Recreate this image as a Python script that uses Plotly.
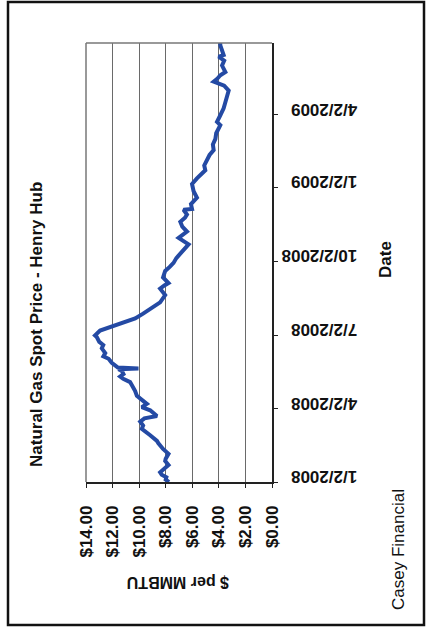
import plotly.graph_objects as go

# ---- data ----
dates = [
    "2008-01-02", "2008-01-05", "2008-01-08", "2008-01-11", "2008-01-14", "2008-01-18",
    "2008-01-23", "2008-01-28", "2008-01-31", "2008-02-06", "2008-02-12", "2008-02-19",
    "2008-02-22", "2008-02-29", "2008-03-04", "2008-03-08", "2008-03-12", "2008-03-17",
    "2008-03-21", "2008-03-24", "2008-03-31", "2008-04-04", "2008-04-08", "2008-04-14",
    "2008-04-18", "2008-04-24", "2008-04-28", "2008-05-02", "2008-05-05", "2008-05-09",
    "2008-05-12", "2008-05-15", "2008-05-19", "2008-05-21", "2008-05-22", "2008-05-23",
    "2008-05-29", "2008-06-03", "2008-06-06", "2008-06-10", "2008-06-16", "2008-06-20",
    "2008-06-24", "2008-06-30", "2008-07-02", "2008-07-08", "2008-07-14", "2008-07-17",
    "2008-07-23", "2008-07-29", "2008-08-04", "2008-08-12", "2008-08-21", "2008-08-29",
    "2008-09-02", "2008-09-05", "2008-09-12", "2008-09-20", "2008-09-25", "2008-09-30",
    "2008-10-06", "2008-10-12", "2008-10-18", "2008-10-23", "2008-10-31", "2008-11-04",
    "2008-11-08", "2008-11-14", "2008-11-20", "2008-11-25", "2008-11-29", "2008-12-05",
    "2008-12-06", "2008-12-12", "2008-12-20", "2008-12-28", "2009-01-06", "2009-01-13",
    "2009-01-23", "2009-01-29", "2009-02-05", "2009-02-11", "2009-02-17", "2009-02-24",
    "2009-03-03", "2009-03-10", "2009-03-20", "2009-03-24", "2009-04-01", "2009-04-10",
    "2009-04-18", "2009-04-26", "2009-05-02", "2009-05-08", "2009-05-13", "2009-05-17",
    "2009-05-21", "2009-05-25", "2009-06-02", "2009-06-08", "2009-06-13", "2009-06-15",
    "2009-06-21", "2009-06-27", "2009-06-30",
]
prices = [
    7.75, 8.00, 7.95, 8.30, 8.42, 8.10,
    7.79, 8.04, 8.00, 7.79, 8.20, 8.55,
    8.66, 9.17, 9.45, 9.80, 9.70, 9.92,
    9.60, 8.66, 9.17, 9.80, 9.42, 9.90,
    10.17, 10.30, 10.43, 10.60, 10.68, 11.20,
    11.43, 11.18, 11.30, 11.56, 10.05, 11.60,
    12.06, 12.30, 12.69, 12.55, 12.81, 12.70,
    13.00, 13.19, 13.32, 12.94, 11.94, 11.30,
    10.30, 9.70, 9.17, 8.42, 8.04, 8.42,
    8.10, 7.79, 8.20, 8.04, 7.70, 7.41,
    7.20, 6.90, 6.60, 6.28, 7.03, 6.70,
    6.40, 6.75, 6.90, 6.55, 6.40, 6.66,
    6.02, 6.10, 5.65, 5.90, 6.02, 5.65,
    5.02, 5.10, 4.89, 4.70, 4.39, 4.45,
    4.26, 4.20, 3.89, 4.14, 3.90, 3.64,
    3.50, 3.38, 3.26, 3.60, 4.39, 4.10,
    3.89, 3.51, 3.76, 3.60, 4.01, 3.64,
    3.80, 3.89, 3.90,
]

value_ticks = [14, 12, 10, 8, 6, 4, 2, 0]
date_ticks = ["2008-01-02", "2008-04-02", "2008-07-02", "2008-10-02", "2009-01-02", "2009-04-02"]
date_labels = ["1/2/2008", "4/2/2008", "7/2/2008", "10/2/2008", "1/2/2009", "4/2/2009"]

title_text = "Natural Gas Spot Price - Henry Hub"
value_axis_title = "$ per MMBTU"
date_axis_title = "Date"
source_text = "Casey Financial"

# ---- layout geometry ----
W, H = 427, 631
PL, PR, PT, PB = 86, 272, 43, 482  # plot area in pixels


def px_x(p):
    return (p - PL) / (PR - PL)


def px_y(p):
    return (PB - p) / (PB - PT)


FONT = "Arial, Liberation Sans, Helvetica, sans-serif"
FS = 17


def label(text, x, y, angle, size=FS):
    return dict(text=text, xref="paper", yref="paper", x=px_x(x), y=px_y(y),
                xanchor="center", yanchor="middle", showarrow=False,
                textangle=angle, font=dict(family=FONT, size=size, color="#111"))


fig = go.Figure()
fig.add_trace(go.Scatter(
    x=prices, y=dates, mode="lines",
    line=dict(color="rgb(36,74,164)", width=4),
    hoverinfo="skip", showlegend=False,
))

fig.update_layout(
    width=W, height=H,
    margin=dict(l=PL, r=W - PR, t=PT, b=H - PB, pad=0),
    paper_bgcolor="white", plot_bgcolor="white",
    showlegend=False,
    xaxis=dict(
        range=[14, 0], tickvals=value_ticks,
        tickformat="$.2f", tickangle=-90,
        tickfont=dict(family=FONT, size=FS, color="#111", weight="bold"),
        showgrid=True, gridcolor="#6a6a6a", gridwidth=1,
        zeroline=False, showline=True, linecolor="#222", linewidth=1.5,
        ticks="outside", ticklen=4, tickcolor="#222",
        ticklabelstandoff=11, fixedrange=True,
    ),
    yaxis=dict(
        type="date", range=["2008-01-02", "2009-06-30"],
        tickvals=date_ticks, ticktext=date_labels, side="right",
        tickangle=180,
        tickfont=dict(family=FONT, size=FS, color="#111", weight="bold"),
        showgrid=False, zeroline=False, showline=True, linecolor="#222", linewidth=1.5,
        ticks="outside", ticklen=4, tickcolor="#222",
        ticklabelstandoff=76, fixedrange=True,
    ),
    shapes=[
        # plot area left and top edges
        dict(type="line", xref="paper", yref="paper", x0=0, x1=1, y0=1, y1=1,
             line=dict(color="#777", width=1.5)),
        dict(type="line", xref="paper", yref="paper", x0=0, x1=0, y0=0, y1=1,
             line=dict(color="#777", width=1.5)),
        # outer chart border
        dict(type="rect", xref="paper", yref="paper",
             x0=px_x(8), x1=px_x(424), y0=px_y(625), y1=px_y(2),
             line=dict(color="#111", width=2.5)),
    ],
    annotations=[
        label("<b>" + title_text + "</b>", 36, 325, -90),
        label("<b>" + value_axis_title + "</b>", 178, 583, 180, size=16),
        label("<b>" + date_axis_title + "</b>", 385, 260, -90),
        label(source_text, 398, 550, -90),
    ],
)

fig.write_html(
    "out.html",
    config={"displayModeBar": False},
    post_script="document.body.style.margin='0';document.body.style.overflow='hidden';",
)
